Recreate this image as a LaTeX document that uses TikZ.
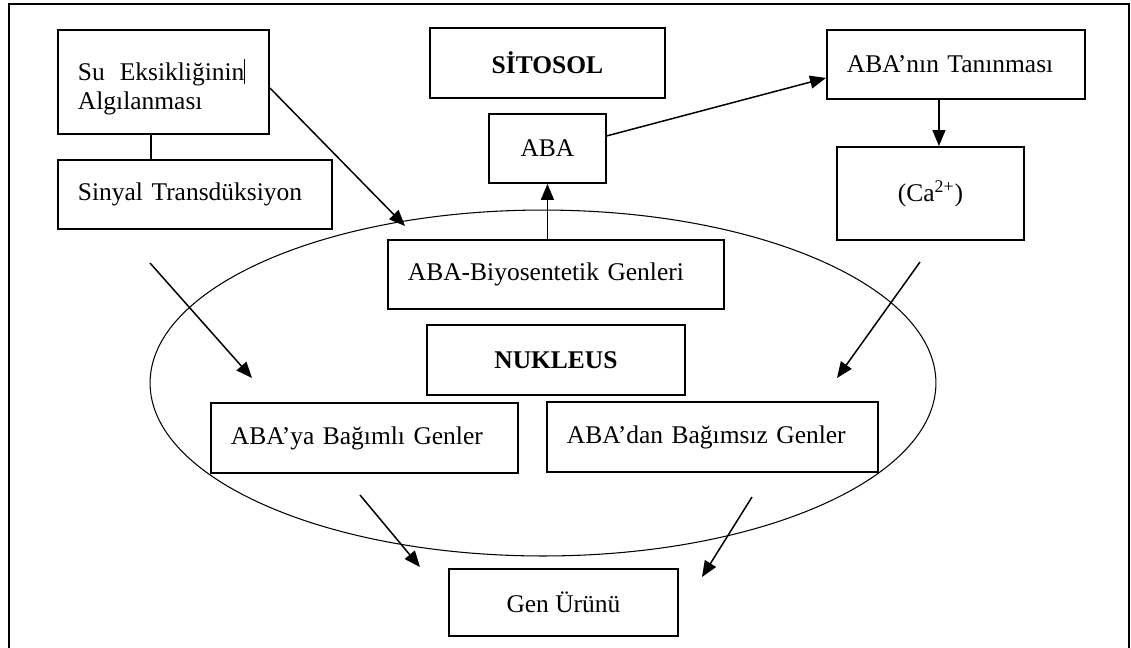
\documentclass[tikz,border=0pt]{standalone}
\usepackage{fontspec}
\setmainfont{Liberation Serif}
\usetikzlibrary{positioning}
\usetikzlibrary{shapes.geometric}
\usetikzlibrary{arrows.meta}

\begin{document}
\begin{tikzpicture}[x=0.02cm, y=-0.02cm,
  box/.style={draw, line width=1.1pt, inner sep=0pt, font=\fontsize{14.5}{20}\selectfont},
  lbox/.style={box, align=left, inner xsep=0.4cm},
  bbox/.style={box, font=\fontsize{14.5}{20}\selectfont\bfseries},
  arr/.style={-{Triangle[length=0.32cm,width=0.26cm]}, line width=0.85pt}]
  \clip (0,0) rectangle (1131,647);
  \draw[line width=1.2pt] (9,4) rectangle (1129,700);

  \node[ellipse, draw, line width=0.6pt, minimum width=15.72cm, minimum height=6.92cm, inner sep=0pt] (cell) at (543,383) {};

  % left column
  \node[lbox, anchor=north west, text width=3.42cm, minimum height=2.08cm, font=\fontsize{14.5}{17}\selectfont] (su) at (57,29)
    {\mbox{\rule{0pt}{0.63cm}Su\hspace{0.3cm}Eksikliğinin\smash{\rule[-0.08cm]{0.6pt}{0.5cm}}}\\Algılanması};
  \node[lbox, below=0.48cm of su.south west, anchor=north west, text width=4.68cm, minimum height=1.38cm] (sig) {Sinyal Transdüksiyon};

  % sitosol
  \node[bbox, anchor=north west, minimum width=4.7cm, minimum height=1.4cm] (sit) at (429,27) {SİTOSOL};
  \node[box, below=0.28cm of sit, minimum width=2.34cm, minimum height=1.38cm] (aba) {ABA};
  \node[lbox, anchor=north west, text width=4.36cm, minimum height=1.38cm] (tani) at (826,29) {ABA’nın Tanınması};
  \node[box, anchor=north west, minimum width=3.74cm, minimum height=1.86cm] (ca) at (836,146) {(Ca\textsuperscript{2+})};

  % nukleus
  \node[lbox, anchor=north west, text width=5.92cm, minimum height=1.38cm] (bio) at (387,239) {ABA-Biyosentetik Genleri};
  \node[bbox, below=0.28cm of bio, minimum width=5.16cm, minimum height=1.4cm] (nuk) {NUKLEUS};
  \node[lbox, anchor=north west, text width=5.34cm, minimum height=1.4cm] (dep) at (210,402) {ABA’ya Bağımlı Genler};
  \node[lbox, anchor=north west, text width=5.82cm, minimum height=1.4cm] (indep) at (546,401) {ABA’dan Bağımsız Genler};
  \node[box, anchor=north west, minimum width=4.58cm, minimum height=1.34cm] (gen) at (448,568) {Gen Ürünü};

  % free ends
  \coordinate (suin) at (405,226);
  \coordinate (depout) at (150,263);
  \coordinate (depin) at (252,378);
  \coordinate (caout) at (920,262);
  \coordinate (cain) at (837,378);
  \coordinate (depgo) at (360,495);
  \coordinate (genl) at (420,567);
  \coordinate (indgo) at (752,497);
  \coordinate (genr) at (702,577);

  \draw[line width=1.1pt] ([xshift=-0.25cm]su.south) -- ([xshift=-0.25cm]su.south |- sig.north);
  \draw[arr] ([yshift=-0.12cm]su.east) -- (suin);
  \draw[arr] (aba.south |- bio.north) -- (aba.south);
  \draw[arr] ([yshift=0.25cm]aba.east) -- ([yshift=-0.27cm]tani.west);
  \draw[arr] ([xshift=-0.34cm]tani.south) -- ([xshift=-0.34cm]tani.south |- ca.north);
  \draw[arr] (depout) -- (depin);
  \draw[arr] (caout) -- (cain);
  \draw[arr] (depgo) -- (genl);
  \draw[arr] (indgo) -- (genr);
\end{tikzpicture}
\end{document}
